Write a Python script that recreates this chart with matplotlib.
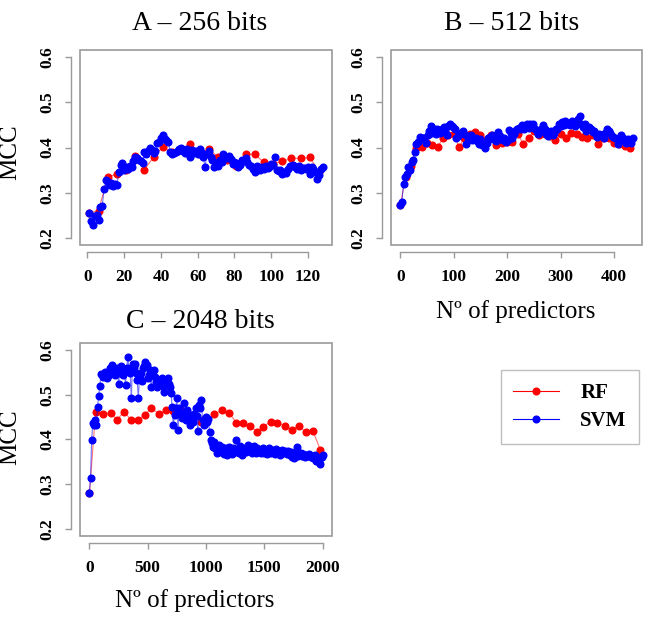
import numpy as np
import matplotlib.pyplot as plt
from matplotlib.patches import Rectangle
from matplotlib.lines import Line2D

plt.rcParams['font.family'] = ['Liberation Serif', 'DejaVu Serif']

# ---- A: 256 bits ----
a_rf_x = [1, 6, 11, 16, 21, 26, 31, 36, 41, 46, 51, 56, 61, 66, 71, 76, 81, 86, 91, 96, 101, 106, 111, 116, 121, 126]
a_rf = [0.255, 0.260, 0.335, 0.341, 0.350, 0.382, 0.351, 0.379, 0.401, 0.390, 0.397, 0.408, 0.385,
        0.397, 0.379, 0.373, 0.360, 0.385, 0.385, 0.367, 0.364, 0.369, 0.376, 0.376, 0.378, 0.346]
a_svm = [0.255, 0.237, 0.228, 0.248, 0.250, 0.239, 0.268, 0.270, 0.307, 0.327,
         0.324, 0.316, 0.322, 0.314, 0.320, 0.316, 0.346, 0.362, 0.366, 0.350,
         0.357, 0.352, 0.360, 0.356, 0.370, 0.379, 0.377, 0.372, 0.370, 0.366,
         0.390, 0.386, 0.392, 0.400, 0.395, 0.388, 0.392, 0.410, 0.413, 0.420,
         0.428, 0.418, 0.416, 0.412, 0.390, 0.386, 0.388, 0.390, 0.393, 0.397,
         0.400, 0.392, 0.388, 0.396, 0.385, 0.380, 0.394, 0.388, 0.392, 0.385,
         0.397, 0.390, 0.378, 0.357, 0.386, 0.392, 0.380, 0.372, 0.357, 0.366,
         0.358, 0.372, 0.368, 0.386, 0.380, 0.377, 0.382, 0.375, 0.364, 0.368,
         0.366, 0.357, 0.362, 0.372, 0.370, 0.376, 0.368, 0.362, 0.360, 0.353,
         0.346, 0.358, 0.353, 0.350, 0.356, 0.352, 0.360, 0.355, 0.357, 0.364,
         0.362, 0.379, 0.350, 0.348, 0.350, 0.342, 0.345, 0.343, 0.352, 0.360,
         0.358, 0.362, 0.356, 0.352, 0.360, 0.350, 0.354, 0.355, 0.352, 0.356,
         0.342, 0.356, 0.352, 0.346, 0.331, 0.340, 0.352, 0.357]
a_svm_x = np.arange(1, len(a_svm) + 1)

# ---- B: 512 bits ----
b_rf_x = list(range(0, 431, 10))
b_rf = [0.272, 0.335, 0.360, 0.398, 0.401, 0.410, 0.405, 0.402, 0.420, 0.428, 0.430, 0.401, 0.422,
        0.430, 0.434, 0.428, 0.416, 0.428, 0.406, 0.410, 0.412, 0.412, 0.430, 0.408, 0.422, 0.436,
        0.427, 0.430, 0.425, 0.416, 0.430, 0.422, 0.432, 0.430, 0.423, 0.422, 0.427, 0.408, 0.422,
        0.422, 0.410, 0.408, 0.403, 0.400]
b_svm = [0.272, 0.280, 0.320, 0.335, 0.342, 0.357, 0.350, 0.368, 0.372, 0.390,
         0.408, 0.412, 0.423, 0.418, 0.420, 0.420, 0.410, 0.428, 0.436, 0.447,
         0.432, 0.440, 0.430, 0.440, 0.436, 0.432, 0.440, 0.445, 0.436, 0.428,
         0.447, 0.452, 0.448, 0.445, 0.440, 0.420, 0.426, 0.430, 0.432, 0.436,
         0.430, 0.407, 0.420, 0.425, 0.427, 0.416, 0.418, 0.420, 0.415, 0.408,
         0.418, 0.405, 0.410, 0.400, 0.410, 0.420, 0.424, 0.427, 0.418, 0.420,
         0.415, 0.434, 0.425, 0.418, 0.416, 0.420, 0.412, 0.416, 0.438, 0.432,
         0.420, 0.430, 0.438, 0.440, 0.444, 0.442, 0.449, 0.440, 0.446, 0.451,
         0.444, 0.453, 0.450, 0.452, 0.440, 0.436, 0.430, 0.436, 0.442, 0.449,
         0.442, 0.430, 0.426, 0.432, 0.436, 0.428, 0.432, 0.440, 0.440, 0.451,
         0.448, 0.456, 0.450, 0.458, 0.452, 0.455, 0.450, 0.459, 0.452, 0.448,
         0.455, 0.463, 0.470, 0.452, 0.445, 0.451, 0.436, 0.440, 0.445, 0.440,
         0.434, 0.436, 0.430, 0.424, 0.430, 0.428, 0.427, 0.420, 0.432, 0.440,
         0.437, 0.432, 0.425, 0.423, 0.420, 0.418, 0.408, 0.415, 0.427, 0.420,
         0.412, 0.410, 0.418, 0.412, 0.410, 0.420]
b_svm_x = np.arange(0, 3 * len(b_svm), 3)

# ---- C: 2048 bits ----
c_rf_x = [1, 54, 116, 182, 238, 295, 360, 417, 474, 531, 599, 658, 721, 780, 840, 900, 960, 1010,
          1072, 1138, 1200, 1257, 1313, 1379, 1436, 1492, 1555, 1612, 1677, 1734, 1796, 1853, 1915, 1980]
c_rf = [0.280, 0.462, 0.456, 0.459, 0.444, 0.462, 0.444, 0.444, 0.455, 0.470, 0.457, 0.466, 0.464,
        0.468, 0.455, 0.452, 0.440, 0.447, 0.457, 0.466, 0.460, 0.438, 0.436, 0.431, 0.417, 0.429,
        0.440, 0.438, 0.431, 0.421, 0.431, 0.417, 0.420, 0.377]
c_svm = [0.281, 0.313, 0.399, 0.438, 0.432, 0.444, 0.433, 0.472, 0.498, 0.520,
         0.546, 0.545, 0.540, 0.552, 0.548, 0.538, 0.552, 0.545, 0.559, 0.566,
         0.548, 0.555, 0.545, 0.550, 0.559, 0.525, 0.548, 0.564, 0.558, 0.545,
         0.555, 0.522, 0.560, 0.584, 0.555, 0.548, 0.492, 0.570, 0.560, 0.570,
         0.548, 0.533, 0.492, 0.540, 0.548, 0.530, 0.559, 0.565, 0.574, 0.566,
         0.537, 0.545, 0.555, 0.518, 0.545, 0.555, 0.540, 0.529, 0.518, 0.522,
         0.533, 0.528, 0.537, 0.520, 0.507, 0.530, 0.525, 0.537, 0.525, 0.518,
         0.505, 0.473, 0.432, 0.455, 0.470, 0.492, 0.421, 0.470, 0.462, 0.448,
         0.458, 0.481, 0.452, 0.444, 0.466, 0.450, 0.432, 0.455, 0.448, 0.440,
         0.458, 0.470, 0.452, 0.418, 0.477, 0.470, 0.488, 0.444, 0.432, 0.445,
         0.451, 0.440, 0.445, 0.417, 0.399, 0.392, 0.384, 0.395, 0.380, 0.369,
         0.380, 0.388, 0.375, 0.372, 0.384, 0.368, 0.378, 0.380, 0.365, 0.372,
         0.384, 0.375, 0.368, 0.380, 0.376, 0.372, 0.399, 0.378, 0.370, 0.385,
         0.375, 0.365, 0.378, 0.380, 0.372, 0.376, 0.388, 0.382, 0.375, 0.370,
         0.378, 0.386, 0.375, 0.370, 0.380, 0.372, 0.376, 0.370, 0.378, 0.382,
         0.370, 0.375, 0.368, 0.376, 0.380, 0.372, 0.370, 0.376, 0.372, 0.368,
         0.378, 0.372, 0.375, 0.366, 0.372, 0.376, 0.370, 0.372, 0.374, 0.368,
         0.375, 0.370, 0.366, 0.372, 0.360, 0.358, 0.366, 0.372, 0.383, 0.362,
         0.365, 0.370, 0.362, 0.368, 0.365, 0.360, 0.366, 0.362, 0.368, 0.364,
         0.360, 0.362, 0.358, 0.365, 0.352, 0.360, 0.356, 0.350, 0.345, 0.360,
         0.365]
c_svm_x = np.arange(0, 10 * len(c_svm), 10)

y_ticks = [0.2, 0.3, 0.4, 0.5, 0.6]
GREY = '#9a9a9a'
W, H = 648, 631


def px_rect(left, top, right, bottom):
    return [left / W, 1 - bottom / H, (right - left) / W, (bottom - top) / H]


def panel(rect, rf_x, rf, svm_x, svm, xticks):
    ax = fig.add_axes(rect)
    for xs, ys, c in [(rf_x, rf, 'red'), (svm_x, svm, 'blue')]:
        ax.plot(xs, ys, color=c, lw=0.8, alpha=0.55)
        ax.plot(xs, ys, 'o', color=c, ms=4.8, mec=c)
    lo, hi = min(svm_x[0], rf_x[0]), max(svm_x[-1], rf_x[-1])
    pad = 0.04 * (hi - lo)
    ax.set_xlim(lo - pad, hi + pad)
    ax.set_ylim(0.2 - 0.016, 0.6 + 0.016)
    ax.set_xticks(xticks)
    ax.set_yticks(y_ticks)
    for s in ['top', 'right']:
        ax.spines[s].set_visible(False)
    ax.spines['left'].set_position(('outward', 6.5))
    ax.spines['bottom'].set_position(('outward', 5))
    ax.spines['left'].set_bounds(0.2, 0.6)
    ax.spines['bottom'].set_bounds(xticks[0], xticks[-1])
    for s in ['left', 'bottom']:
        ax.spines[s].set_color(GREY)
        ax.spines[s].set_linewidth(1.0)
    ax.tick_params(length=4.5, width=1.0, color=GREY, labelsize=12.5)
    ax.tick_params(axis='x', pad=8)
    ax.tick_params(axis='y', pad=7, labelrotation=90)
    for lab in ax.get_yticklabels():
        lab.set_va('center')
    for lab in ax.get_xticklabels() + ax.get_yticklabels():
        lab.set_fontweight('bold')
    ax.add_patch(Rectangle((0, 0), 1, 1, transform=ax.transAxes, fill=False,
                           ec=GREY, lw=1.2, clip_on=False))
    return ax


fig = plt.figure(figsize=(6.48, 6.31), dpi=100)

panel(px_rect(80, 50, 332, 245), a_rf_x, a_rf, a_svm_x, a_svm, [0, 20, 40, 60, 80, 100, 120])
panel(px_rect(391, 50, 642, 245), b_rf_x, b_rf, b_svm_x, b_svm, [0, 100, 200, 300, 400])
panel(px_rect(80, 343, 332, 536), c_rf_x, c_rf, c_svm_x, c_svm, [0, 500, 1000, 1500, 2000])

fig.text(200 / W, 1 - 24 / H, 'A – 256 bits', ha='center', va='center', fontsize=20)
fig.text(512 / W, 1 - 24 / H, 'B – 512 bits', ha='center', va='center', fontsize=20)
fig.text(200 / W, 1 - 322 / H, 'C – 2048 bits', ha='center', va='center', fontsize=20)

fig.text(10 / W, 1 - 152 / H, 'MCC', rotation=90, ha='center', va='center', fontsize=18)
fig.text(10 / W, 1 - 437 / H, 'MCC', rotation=90, ha='center', va='center', fontsize=18)
fig.text(516 / W, 1 - 312 / H, 'Nº of predictors', ha='center', va='center', fontsize=18)
fig.text(195 / W, 1 - 601 / H, 'Nº of predictors', ha='center', va='center', fontsize=18)

handles = [Line2D([], [], color='red', lw=0.8, marker='o', ms=4.8),
           Line2D([], [], color='blue', lw=0.8, marker='o', ms=4.8)]
leg = fig.legend(handles, ['RF', 'SVM'], loc='center', bbox_to_anchor=(570 / W, 1 - 407 / H),
                 prop={'weight': 'bold', 'size': 15}, frameon=True, fancybox=False,
                 handlelength=2.2, handletextpad=1.0, labelspacing=0.4, borderpad=0.6)
leg.get_frame().set_edgecolor('#b0b0b0')
leg.get_frame().set_linewidth(1.0)

fig.savefig('out.png', dpi=100)
